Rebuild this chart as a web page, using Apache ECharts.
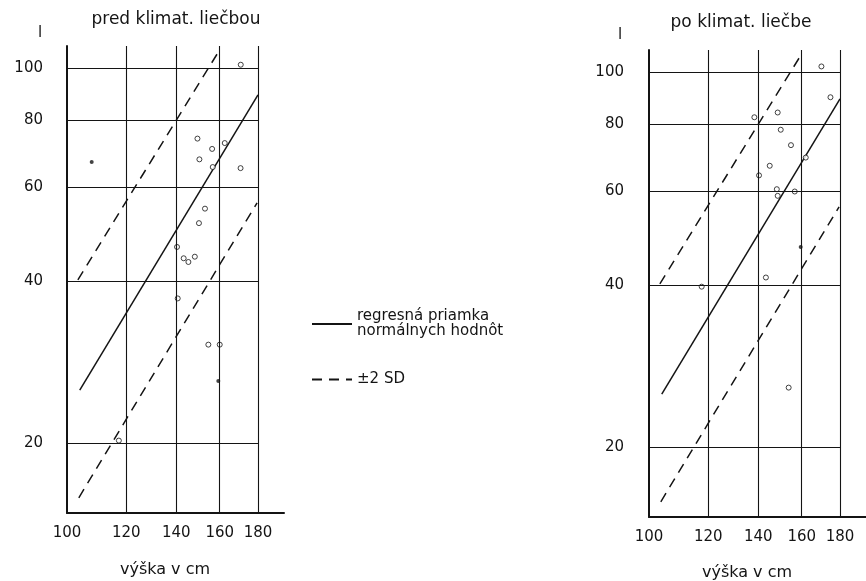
<!DOCTYPE html>
<html>
<head>
<meta charset="utf-8">
<script src="https://cdn.jsdelivr.net/npm/echarts@6/dist/echarts.min.js"></script>
<style>html,body{margin:0;padding:0;background:#fff}#c{width:866px;height:581px}</style>
</head>
<body>
<div id="c"></div>
<script>
// ---- data ----
const xTicks = [100, 120, 140, 160, 180];
const yTicks = [20, 40, 60, 80, 100];
const panelTitles = ['pred klimat. liečbou', 'po klimat. liečbe'];
const xAxisTitle = 'výška v cm';
const yAxisTitle = 'l';
const regName = 'regresná priamka normálnych hodnôt';
const sdName = '±2 SD';
// normal-value regression line and ±2 SD band (straight on log-log paper)
const regLine = [[104, 25.1], [180, 89.2]];
const upperSD = [[103.4, 40.3], [159.2, 107]];
const lowerSD = [[103.7, 15.8], [179.5, 56.1]];
// before treatment
const preOpen = [[170.7,101.5],[149.4,73.9],[156.3,70.7],[162.5,72.5],[150.3,67.6],[156.6,65.4],[170.6,65.1],[152.9,54.7],[150.1,51.4],[140.3,46.4],[143.2,44.2],[145.3,43.5],[148.2,44.5],[140.6,37.2],[154.5,30.5],[160.0,30.5],[117.3,20.2]];
const preFilled = [[107.9,66.8],[159.3,26.1]];
// after treatment
const postOpen = [[170.0,102.5],[174.8,89.8],[138.3,82.4],[148.6,84.1],[150.0,78.1],[154.8,73.1],[162.0,69.3],[145.0,66.9],[140.3,64.2],[148.2,60.5],[148.6,58.8],[156.6,59.9],[143.3,41.4],[117.6,39.8],[153.7,25.8]];
const postFilled = [[159.5,47.2]];

// ---- chart ----
const X_MIN = 100, X_MAX = 195, Y_MIN = 14.8, Y_MAX = 110;
const INK = '#141414';
const FONT = 'DejaVu Sans';

function gridLines() {
  const d = [];
  xTicks.slice(1).forEach(v => d.push([{coord: [v, Y_MIN]}, {coord: [v, Y_MAX]}]));
  yTicks.forEach(v => d.push([{coord: [xTicks[0], v]}, {coord: [xTicks[xTicks.length - 1], v]}]));
  return d;
}

function axesFor(i, yMargin) {
  return {
    x: {
      type: 'log', gridIndex: i, min: X_MIN, max: X_MAX,
      axisLine: {show: true, lineStyle: {color: INK, width: 2}},
      axisTick: {show: false}, splitLine: {show: false},
      axisLabel: {customValues: xTicks, margin: 13, fontFamily: FONT, fontSize: 15, color: INK}
    },
    y: {
      type: 'log', gridIndex: i, min: Y_MIN, max: Y_MAX,
      axisLine: {show: true, lineStyle: {color: INK, width: 2}},
      axisTick: {show: false}, splitLine: {show: false},
      axisLabel: {customValues: yTicks, margin: yMargin, fontFamily: FONT, fontSize: 15, color: INK}
    }
  };
}

const a0 = axesFor(0, 24), a1 = axesFor(1, 25);

function panelSeries(i, openPts, filledPts) {
  return [
    {
      name: regName, type: 'line', xAxisIndex: i, yAxisIndex: i, data: regLine,
      symbol: 'none', lineStyle: {color: INK, width: 1.5}, itemStyle: {color: INK},
      silent: true, z: 3,
      markLine: {
        silent: true, symbol: 'none', label: {show: false},
        lineStyle: {color: INK, width: 1.1, type: 'solid'},
        emphasis: {disabled: true},
        data: gridLines()
      }
    },
    {
      name: sdName, type: 'line', xAxisIndex: i, yAxisIndex: i, data: upperSD,
      symbol: 'none', lineStyle: {color: INK, width: 1.5, type: [10, 7]}, itemStyle: {color: INK}, silent: true, z: 3
    },
    {
      name: sdName, type: 'line', xAxisIndex: i, yAxisIndex: i, data: lowerSD,
      symbol: 'none', lineStyle: {color: INK, width: 1.5, type: [10, 7]}, itemStyle: {color: INK}, silent: true, z: 3
    },
    {
      name: 'open' + i, type: 'scatter', xAxisIndex: i, yAxisIndex: i, data: openPts,
      symbol: 'circle', symbolSize: 5,
      itemStyle: {color: '#fff', borderColor: INK, borderWidth: 1}, silent: true, z: 4
    },
    {
      name: 'filled' + i, type: 'scatter', xAxisIndex: i, yAxisIndex: i, data: filledPts,
      symbol: 'circle', symbolSize: 4, itemStyle: {color: INK}, silent: true, z: 4
    }
  ];
}

function txt(x, y, s, size) {
  return {type: 'text', x: x, y: y, silent: true,
    style: {text: s, fill: INK, font: size + 'px "' + FONT + '"', textAlign: 'center', textVerticalAlign: 'middle'}};
}

const chart = echarts.init(document.getElementById('c'), null, {renderer: 'canvas'});
chart.setOption({
  backgroundColor: '#fff',
  animation: false,
  grid: [
    {left: 67, top: 46, width: 217, height: 467},
    {left: 649, top: 50, width: 217, height: 467}
  ],
  xAxis: [a0.x, a1.x],
  yAxis: [a0.y, a1.y],
  legend: {
    data: [regName, sdName], orient: 'vertical', left: 306, top: 304,
    itemWidth: 40, itemHeight: 14, itemGap: 33, selectedMode: false,
    itemStyle: {color: 'transparent', borderWidth: 0, opacity: 0},
    formatter: n => n === regName ? 'regresná priamka\nnormálnych hodnôt' : n,
    textStyle: {fontFamily: FONT, fontSize: 15, color: INK, lineHeight: 15}
  },
  graphic: [
    txt(176, 20, panelTitles[0], 17),
    txt(741, 23, panelTitles[1], 17),
    txt(40, 33, yAxisTitle, 15),
    txt(620, 35, yAxisTitle, 15),
    txt(165, 570, xAxisTitle, 16),
    txt(747, 573, xAxisTitle, 16)
  ],
  series: panelSeries(0, preOpen, preFilled).concat(panelSeries(1, postOpen, postFilled))
});
</script>
</body>
</html>
